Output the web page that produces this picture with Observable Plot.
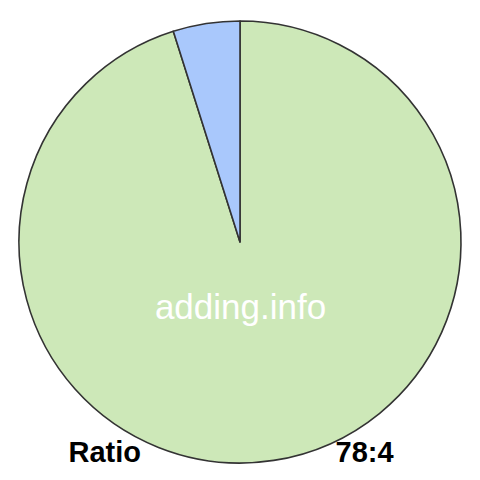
<!DOCTYPE html>
<html><head><meta charset="utf-8">
<script src="https://cdn.jsdelivr.net/npm/d3@7"></script>
<script src="https://cdn.jsdelivr.net/npm/@observablehq/plot@0.6"></script>
<style>body{margin:0;background:#fff;} #c{position:relative;width:480px;height:480px;}</style>
</head><body><div id="c"></div>
<script>
const labels = ["Other", "Part"];
const values = [78, 4];
const colors = ["#cde8b8", "#a9c8fc"];
const centerText = "adding.info";
const leftLabel = "Ratio";
const rightLabel = "78:4";

const data = labels.map((l, i) => ({label: l, value: values[i], color: colors[i]}));

function pieMark(index, scales, vals, dims) {
  const cx = scales.x(0), cy = scales.y(0);
  const r = Math.abs(scales.x(1) - scales.x(0));
  const pie = d3.pie().value(d => d.value).sort(null);
  const arcs = pie(data);
  const arc = d3.arc().innerRadius(0).outerRadius(r);
  const g = d3.create("svg:g").attr("transform", `translate(${cx},${cy})`);
  g.selectAll("path").data(arcs).join("path")
    .attr("d", arc).attr("fill", d => d.data.color)
    .attr("stroke", "#333").attr("stroke-width", 1.6).attr("stroke-linejoin", "round");
  return g.node();
}

const chart = Plot.plot({
  width: 480, height: 480,
  margin: 0,
  x: {domain: [-240/221, 240/221], axis: null},
  y: {domain: [-238/221, 242/221], axis: null},
  style: {fontFamily: "Liberation Sans, Arial, sans-serif"},
  marks: [
    pieMark,
    Plot.text([centerText], {x: 0, y: -65/221, text: d => d, fill: "white", fontSize: 35, textAnchor: "middle"}),
    Plot.text([leftLabel], {x: -172/221, y: -210/221, text: d => d, fill: "black", fontSize: 29, fontWeight: "bold", textAnchor: "start"}),
    Plot.text([rightLabel], {x: 95/221, y: -210/221, text: d => d, fill: "black", fontSize: 29, fontWeight: "bold", textAnchor: "start"})
  ]
});
document.getElementById("c").append(chart);
</script></body></html>
